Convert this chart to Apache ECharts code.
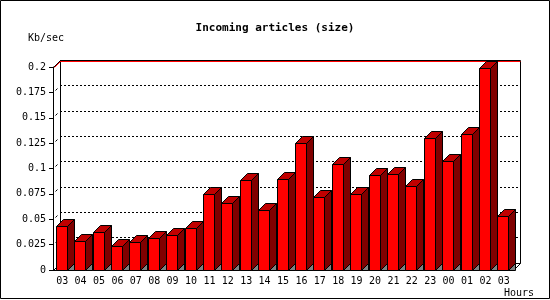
<!DOCTYPE html>
<html><head><meta charset="utf-8">
<script src="https://cdn.jsdelivr.net/npm/echarts@6/dist/echarts.min.js"></script>
<style>html,body{margin:0;padding:0;background:#fff}#c{width:550px;height:300px}</style>
</head><body><div id="c"></div>
<script>
const titleText = 'Incoming articles (size)';
const yAxisName = 'Kb/sec';
const xAxisName = 'Hours';
const hours = ['03','04','05','06','07','08','09','10','11','12','13','14','15','16','17','18','19','20','21','22','23','00','01','02','03'];
const kbPerSec = [0.0430,0.0283,0.0371,0.0233,0.0273,0.0312,0.0342,0.0411,0.0746,0.0657,0.0883,0.0588,0.0893,0.1248,0.0716,0.1041,0.0746,0.0933,0.0943,0.0825,0.1298,0.1071,0.1337,0.1987,0.0529];
const yMin = 0, yMax = 0.2, yStep = 0.025;
const wallTicks = [0.025,0.05,0.075,0.1,0.125,0.15,0.175];

const D = 7;
const FONT = 'DejaVu Sans Mono';
const chart = echarts.init(document.getElementById('c'), null, {renderer: 'canvas'});

function crisp(v){ return Math.round(v - 0.5) + 0.5; }

const barData = kbPerSec.map((v, i) => [i, v]);

function renderBar(params, api) {
  const i = api.value(0), v = api.value(1);
  const base = api.coord([i, 0]);
  const top = api.coord([i, v]);
  const bw = api.size([1, 0])[0];
  const x0 = crisp(base[0] - bw / 2 + bw * 0.18);
  const x1 = x0 + Math.round(bw * 0.6);
  const yb = crisp(base[1]);
  const yt = crisp(top[1]);
  const ls = {stroke: '#000', lineWidth: 1};
  return {
    type: 'group',
    children: [
      {type: 'polygon', shape: {points: [[x1, yb], [x1 + D, yb - D], [x1 + D, yb]]}, style: {fill: '#808080', stroke: '#000', lineWidth: 1}},
      {type: 'polygon', shape: {points: [[x1, yt], [x1 + D, yt - D], [x1 + D, yb - D], [x1, yb]]}, style: Object.assign({fill: '#800000'}, ls)},
      {type: 'polygon', shape: {points: [[x0, yt], [x0 + D, yt - D], [x1 + D, yt - D], [x1, yt]]}, style: Object.assign({fill: '#c00000'}, ls)},
      {type: 'rect', shape: {x: x0, y: yt, width: x1 - x0, height: yb - yt}, style: Object.assign({fill: '#ff0000'}, ls)}
    ]
  };
}

function renderWall(params, api) {
  const cs = params.coordSys;
  const xl = crisp(cs.x), xr = crisp(cs.x + cs.width);
  const yTop = crisp(api.coord([0, yMax])[1]);
  const yBot = crisp(api.coord([0, yMin])[1]);
  const s = {stroke: '#000', lineWidth: 1};
  return {
    type: 'group',
    children: [
      {type: 'line', shape: {x1: xl + D, y1: yTop - D, x2: xl + D, y2: yBot - D}, style: s},
      {type: 'line', shape: {x1: xr + D, y1: yTop - D, x2: xr + D, y2: yBot - D}, style: s},
      {type: 'line', shape: {x1: xl + D, y1: yBot - D, x2: xr + D, y2: yBot - D}, style: s},
      {type: 'line', shape: {x1: xl, y1: yBot, x2: xl + D, y2: yBot - D}, style: s},
      {type: 'line', shape: {x1: xr, y1: yBot, x2: xr + D, y2: yBot - D}, style: s},
      {type: 'line', shape: {x1: xl + D, y1: yTop - D + 1, x2: xr + D, y2: yTop - D + 1}, style: {stroke: '#ff0000', lineWidth: 1}},
      {type: 'line', shape: {x1: xl + 1, y1: yTop, x2: xl + D + 1, y2: yTop - D}, style: {stroke: '#ff0000', lineWidth: 1}},
      {type: 'line', shape: {x1: xl, y1: yTop, x2: xl + D, y2: yTop - D}, style: s},
      {type: 'line', shape: {x1: xl + D, y1: yTop - D, x2: xr + D, y2: yTop - D}, style: s}
    ]
  };
}

function renderWallTick(params, api) {
  const cs = params.coordSys;
  const xl = crisp(cs.x);
  const y = crisp(api.coord([0, api.value(0)])[1]);
  return {type: 'line', shape: {x1: xl + 2, y1: y - 2, x2: xl + 4, y2: y - 4}, style: {stroke: '#000', lineWidth: 1}};
}

const smallText = {fontFamily: FONT, fontSize: 10, fontWeight: 'normal', color: '#000'};

const option = {
  animation: false,
  backgroundColor: '#fff',
  textStyle: {fontFamily: FONT},
  title: [
    {text: titleText, left: 'center', top: 23, padding: 0,
     textStyle: {fontFamily: FONT, fontWeight: 'bold', fontSize: 11, color: '#000'}},
    {text: yAxisName, left: 28, top: 33, padding: 0, textStyle: smallText},
    {text: xAxisName, left: 504, top: 288, padding: 0, textStyle: smallText}
  ],
  grid: [
    {left: 53, top: 67, width: 460, height: 203},
    {left: 60, top: 60, width: 460, height: 203}
  ],
  xAxis: [
    {
      type: 'category', gridIndex: 0, data: hours, boundaryGap: true,
      axisLine: {lineStyle: {color: '#000', width: 1}},
      axisTick: {length: 4, lineStyle: {color: '#000'}},
      axisLabel: {margin: 6, fontFamily: FONT, fontSize: 10, color: '#000', interval: 0}
    },
    {type: 'category', gridIndex: 1, data: hours, show: false}
  ],
  yAxis: [
    {
      type: 'value', gridIndex: 0, min: yMin, max: yMax, interval: yStep,
      axisLine: {show: true, lineStyle: {color: '#000', width: 1}},
      axisTick: {show: true, length: 4, lineStyle: {color: '#000'}},
      axisLabel: {margin: 7, fontFamily: FONT, fontSize: 10, color: '#000'},
      splitLine: {show: false}
    },
    {
      type: 'value', gridIndex: 1, min: yMin, max: yMax, interval: yStep,
      axisLine: {show: false}, axisTick: {show: false}, axisLabel: {show: false},
      splitLine: {show: true, lineStyle: {color: '#000', width: 1, type: [2, 2]}}
    }
  ],
  graphic: [
    {type: 'rect', shape: {x: 0.5, y: 0.5, width: 549, height: 298}, style: {fill: 'none', stroke: '#000', lineWidth: 1}, silent: true, z: 100}
  ],
  series: [
    {type: 'custom', name: 'wall', xAxisIndex: 0, yAxisIndex: 0, data: [[0]], renderItem: renderWall, z: 1, silent: true},
    {type: 'custom', name: 'wallTicks', xAxisIndex: 0, yAxisIndex: 0, data: wallTicks.map(v => [v]), encode: {y: 0}, renderItem: renderWallTick, z: 1, silent: true},
    {type: 'custom', name: 'size', xAxisIndex: 0, yAxisIndex: 0, data: barData, encode: {x: 0, y: 1}, renderItem: renderBar, z: 3, clip: false}
  ]
};
chart.setOption(option);
</script></body></html>
